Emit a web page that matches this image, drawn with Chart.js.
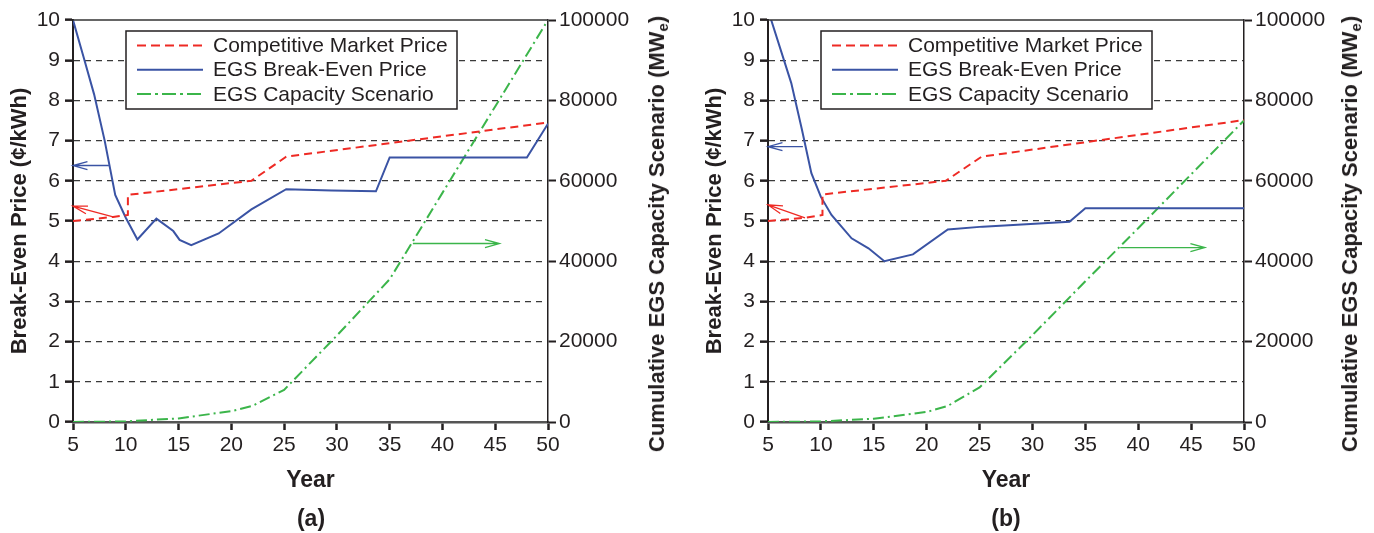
<!DOCTYPE html>
<html>
<head>
<meta charset="utf-8">
<script src="https://cdn.jsdelivr.net/npm/chart.js@4.4.1/dist/chart.umd.min.js"></script>
<style>
  html, body { margin: 0; padding: 0; background: #ffffff; }
  body { width: 1374px; height: 533px; position: relative; overflow: hidden;
         font-family: "Liberation Sans", Arial, sans-serif; color: #231f20; }
  .box { position: absolute; top: 0; height: 533px; }
  .rtitle { position: absolute; white-space: nowrap; font-size: 22px; font-weight: bold;
            transform: translate(-50%, -50%) rotate(-90deg); line-height: 26px; }
  .rtitle sub { font-size: 15px; vertical-align: -4px; }
  .cap { position: absolute; font-size: 23px; font-weight: bold; transform: translate(-50%, -50%); }
</style>
</head>
<body>
<div class="box" style="left:0px;width:678px;"><canvas id="chartA"></canvas></div>
<div class="box" style="left:695px;width:679px;"><canvas id="chartB"></canvas></div>
<div class="rtitle" style="left:660px;top:234px;">Cumulative EGS Capacity Scenario (MW<sub>e</sub>)</div>
<div class="rtitle" style="left:1353px;top:234px;">Cumulative EGS Capacity Scenario (MW<sub>e</sub>)</div>
<div class="cap" style="left:311px;top:518px;">(a)</div>
<div class="cap" style="left:1006px;top:518px;">(b)</div>
<script>
// ---------- DATA ----------
const seriesLabels = ['Competitive Market Price', 'EGS Break-Even Price', 'EGS Capacity Scenario'];
const xTickValues = [5, 10, 15, 20, 25, 30, 35, 40, 45, 50];

// Panel (a)
const redYearsA   = [5, 8.8, 10.2, 10.2, 21.9, 25.2, 50];
const redA        = [5.0, 5.1, 5.15, 5.65, 6.0, 6.6, 7.45];
const blueYearsA  = [5, 6, 7, 8, 9, 10, 11.1, 12.9, 14.5, 15.1, 16.2, 18.8, 21.9, 25.2, 29.5, 33.7, 35, 48, 50];
const blueA       = [10, 9.08, 8.15, 7.0, 5.65, 5.08, 4.54, 5.06, 4.75, 4.53, 4.40, 4.69, 5.29, 5.79, 5.76, 5.74, 6.58, 6.58, 7.42];
const greenYearsA = [5, 10, 15, 20, 22, 25, 30, 35, 40, 45, 50];
const greenA      = [0, 150, 900, 2700, 4000, 8000, 21500, 35500, 57000, 78500, 100000];
const arrowBlueA  = [[8.4, 6.38], [5, 6.38]];
const arrowRedA   = [[8.8, 5.1], [5, 5.37]];
const arrowGreenA = [[37.2, 44400], [45.4, 44400]];

// Panel (b)
const redYearsB   = [5, 8.5, 10.15, 10.15, 21.8, 25.2, 50];
const redB        = [5.0, 5.08, 5.15, 5.66, 6.0, 6.6, 7.51];
const blueYearsB  = [5, 7.2, 8.2, 9.1, 10, 11.0, 12.9, 14.5, 16.0, 18.7, 22.0, 25.3, 33.5, 35.0, 50];
const blueB       = [10.25, 8.43, 7.28, 6.19, 5.6, 5.15, 4.57, 4.32, 4.0, 4.17, 4.79, 4.86, 4.98, 5.32, 5.32];
const greenYearsB = [5, 10, 15, 20, 22, 25, 30, 35, 40, 45, 50];
const greenB      = [0, 150, 800, 2500, 4000, 8600, 21600, 35000, 48200, 61600, 75000];
const arrowBlueB  = [[8.3, 6.85], [5, 6.85]];
const arrowRedB   = [[8.5, 5.08], [5, 5.4]];
const arrowGreenB = [[38.3, 43400], [46.3, 43400]];

// ---------- STYLE ----------
const RED = '#ee2a24', BLUE = '#3a53a4', GREEN = '#3bb54a', INK = '#231f20';
const FONT = '"Liberation Sans", Arial, sans-serif';
Chart.defaults.font.family = FONT;
Chart.defaults.color = INK;

function pts(xs, ys) { return xs.map((x, i) => ({ x: x, y: ys[i] })); }

const egsPlugin = {
  id: 'egs',
  afterDatasetsDraw(chart, args, opts) {
    const ctx = chart.ctx, ca = chart.chartArea;
    const xs = chart.scales.x;
    // top frame line
    ctx.save();
    ctx.strokeStyle = '#333333';
    ctx.lineWidth = 1.5;
    ctx.beginPath();
    ctx.moveTo(ca.left, ca.top);
    ctx.lineTo(ca.right, ca.top);
    ctx.stroke();
    // arrows
    (opts.arrows || []).forEach(a => {
      const ys = chart.scales[a.axis];
      const x1 = xs.getPixelForValue(a.pts[0][0]), y1 = ys.getPixelForValue(a.pts[0][1]);
      const x2 = xs.getPixelForValue(a.pts[1][0]), y2 = ys.getPixelForValue(a.pts[1][1]);
      const ang = Math.atan2(y2 - y1, x2 - x1);
      const L = 15, W = 0.27;
      ctx.strokeStyle = a.color;
      ctx.lineWidth = 1.3;
      ctx.setLineDash([]);
      ctx.beginPath();
      ctx.moveTo(x1, y1);
      ctx.lineTo(x2, y2);
      ctx.moveTo(x2 - L * Math.cos(ang - W), y2 - L * Math.sin(ang - W));
      ctx.lineTo(x2, y2);
      ctx.lineTo(x2 - L * Math.cos(ang + W), y2 - L * Math.sin(ang + W));
      ctx.stroke();
    });
    // legend box
    const bx = ca.left + 53, by = ca.top + 11, bw = 331, bh = 78;
    ctx.fillStyle = '#ffffff';
    ctx.fillRect(bx, by, bw, bh);
    ctx.strokeStyle = '#231f20';
    ctx.lineWidth = 1.5;
    ctx.strokeRect(bx, by, bw, bh);
    const legendDash = [[9, 5], [], [14, 4, 3, 4]];
    chart.data.datasets.forEach((ds, i) => {
      const cy = by + 14.5 + i * 24.2;
      ctx.strokeStyle = ds.borderColor;
      ctx.lineWidth = 2;
      ctx.setLineDash(legendDash[i]);
      ctx.beginPath();
      ctx.moveTo(bx + 11, cy);
      ctx.lineTo(bx + 77, cy);
      ctx.stroke();
      ctx.setLineDash([]);
      ctx.fillStyle = '#231f20';
      ctx.font = '21px ' + FONT;
      ctx.textBaseline = 'middle';
      ctx.textAlign = 'left';
      ctx.fillText(ds.label, bx + 87, cy + 1);
    });
    ctx.restore();
  }
};

function makeChart(id, red, blue, green, arrows) {
  return new Chart(document.getElementById(id), {
    type: 'line',
    data: {
      datasets: [
        { label: seriesLabels[0], data: red, borderColor: RED, borderWidth: 2, borderDash: [8, 5],
          pointRadius: 0, tension: 0, yAxisID: 'y', fill: false },
        { label: seriesLabels[1], data: blue, borderColor: BLUE, borderWidth: 2,
          pointRadius: 0, tension: 0, yAxisID: 'y', fill: false },
        { label: seriesLabels[2], data: green, borderColor: GREEN, borderWidth: 2, borderDash: [11, 4, 2, 4],
          pointRadius: 0, tension: 0, yAxisID: 'y2', fill: false }
      ]
    },
    options: {
      responsive: true,
      maintainAspectRatio: false,
      animation: false,
      events: [],
      layout: { padding: { top: 20, bottom: 39, left: 0, right: 0 } },
      plugins: {
        legend: { display: false },
        tooltip: { enabled: false },
        egs: { arrows: arrows }
      },
      scales: {
        x: {
          type: 'linear', min: 5, max: 50,
          afterBuildTicks: s => { s.ticks = xTickValues.map(v => ({ value: v })); },
          afterFit: s => { s.height = 72; },
          ticks: { font: { size: 21 }, color: INK, padding: 3, maxRotation: 0, autoSkip: false },
          grid: { drawOnChartArea: false, drawTicks: true, tickLength: 8, tickWidth: 2.5, tickColor: INK },
          border: { display: true, color: '#555555', width: 2.5 },
          title: { display: true, text: 'Year', font: { size: 23, weight: 'bold' }, color: INK,
                   padding: { top: 0, bottom: 0 } }
        },
        y: {
          position: 'left', min: 0, max: 10,
          afterFit: s => { s.width = 73; },
          ticks: { stepSize: 1, font: { size: 21 }, color: INK, padding: 5 },
          grid: {
            color: c => (c.tick && (c.tick.value === 0 || c.tick.value === 10)) ? 'rgba(0,0,0,0)' : '#3a3a3a',
            lineWidth: 1.3, drawTicks: true, tickLength: 8, tickWidth: 2.5, tickColor: INK, tickBorderDash: []
          },
          border: { display: true, color: INK, width: 2, dash: [6, 5] },
          title: { display: true, text: 'Break-Even Price (¢/kWh)', font: { size: 22, weight: 'bold' }, color: INK,
                   padding: { top: 7, bottom: 0 } }
        },
        y2: {
          position: 'right', min: 0, max: 100000,
          afterFit: s => { s.width = 130; },
          ticks: { stepSize: 20000, font: { size: 21 }, color: INK, padding: 3,
                   callback: v => String(v) },
          grid: { drawOnChartArea: false, drawTicks: true, tickLength: 8, tickWidth: 2, tickColor: INK },
          border: { display: true, color: INK, width: 1.5 }
        }
      }
    },
    plugins: [egsPlugin]
  });
}

makeChart('chartA', pts(redYearsA, redA), pts(blueYearsA, blueA), pts(greenYearsA, greenA), [
  { pts: arrowBlueA, axis: 'y', color: BLUE },
  { pts: arrowRedA, axis: 'y', color: RED },
  { pts: arrowGreenA, axis: 'y2', color: GREEN }
]);
makeChart('chartB', pts(redYearsB, redB), pts(blueYearsB, blueB), pts(greenYearsB, greenB), [
  { pts: arrowBlueB, axis: 'y', color: BLUE },
  { pts: arrowRedB, axis: 'y', color: RED },
  { pts: arrowGreenB, axis: 'y2', color: GREEN }
]);
</script>
</body>
</html>
